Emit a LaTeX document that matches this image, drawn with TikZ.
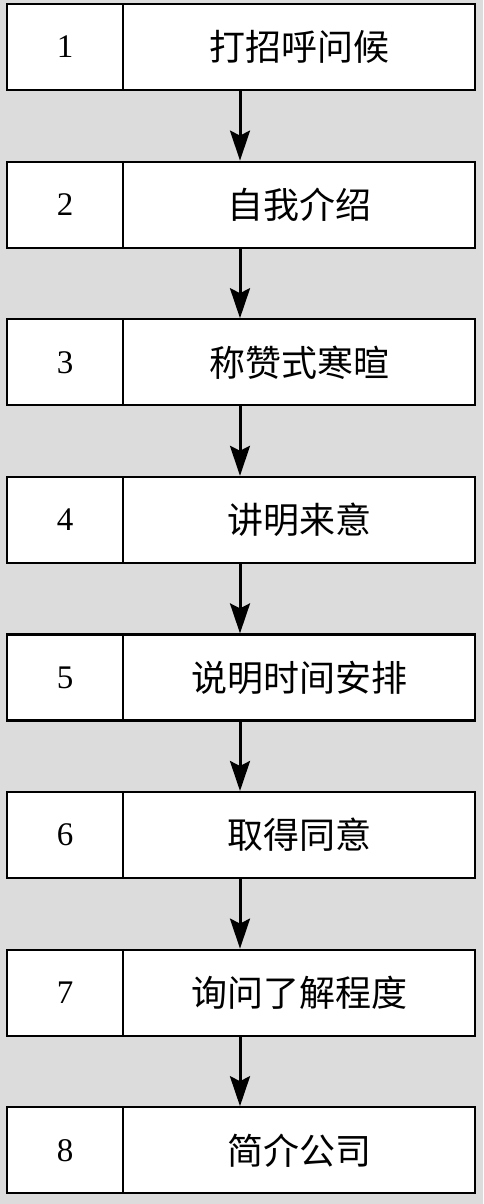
\documentclass[tikz,border=0pt]{standalone}
\usepackage{fontspec}
\setmainfont{Liberation Serif}
\newfontfamily\cjk{Noto Sans CJK SC}[Scale=1]
\usetikzlibrary{arrows.meta}
\definecolor{bg}{HTML}{DCDCDC}
\tikzset{
  numbox/.style={draw=black, line width=2.2pt, fill=white, minimum width=116pt, minimum height=86pt, inner sep=0pt, anchor=north west, font=\fontsize{33}{33}\selectfont},
  txtbox/.style={draw=black, line width=2.2pt, fill=white, minimum width=352pt, minimum height=86pt, inner sep=0pt, anchor=north west, font=\cjk\fontsize{36}{36}\selectfont},
  flow/.style={line width=3pt, -{Stealth[length=30pt, width=20pt, inset=5pt]}}
}
\begin{document}
\begin{tikzpicture}[x=1pt, y=-1pt]
\fill[bg] (0,0) rectangle (483,1204);
\useasboundingbox (0,0) rectangle (483,1204);
\foreach \i/\t in {1/打招呼问候, 2/自我介绍, 3/称赞式寒暄, 4/讲明来意, 5/说明时间安排, 6/取得同意, 7/询问了解程度, 8/简介公司} {
  \pgfmathsetmacro{\yy}{3 + (\i-1)*157.6}
  \node[numbox] (n\i) at (6,\yy) {\i};
  \node[txtbox] (t\i) at (122,\yy) {\t};
}
\foreach \i [evaluate=\i as \j using int(\i+1)] in {1,...,7} {
  \draw[flow] (t\i.south -| 240,0) -- (t\j.north -| 240,0);
}
\end{tikzpicture}
\end{document}
